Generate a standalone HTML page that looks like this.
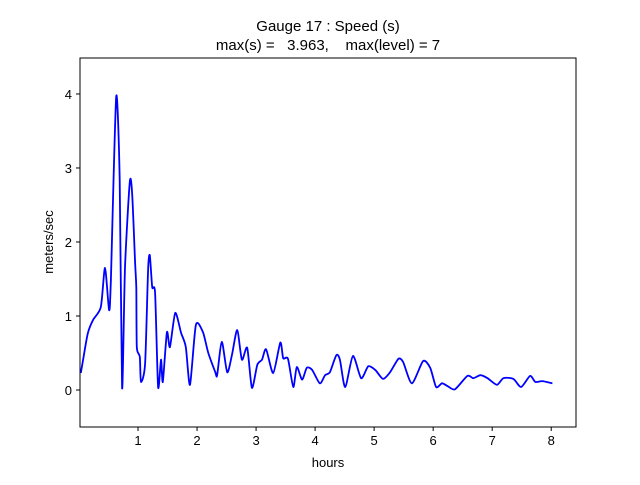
<!DOCTYPE html>
<html><head><meta charset="utf-8"><style>
body{margin:0;background:#fff;}
svg text{font-family:"Liberation Sans","DejaVu Sans",sans-serif;fill:#000;}
</style></head><body>
<svg id="chart" width="640" height="480" viewBox="0 0 640 480">
<rect width="640" height="480" fill="#fff"/>
<text x="328" y="31" font-size="15" text-anchor="middle">Gauge 17 : Speed (s)</text>
<text x="328" y="50" font-size="15" text-anchor="middle" xml:space="preserve">max(s) =   3.963,    max(level) = 7</text>
<g id="ticks"></g>
<path id="series" fill="none" stroke="#0000ff" stroke-width="1.8" stroke-linejoin="round"/>
<rect x="80" y="58" width="496" height="369" fill="none" stroke="#000" stroke-width="1"/>
<text x="328" y="467" font-size="13" text-anchor="middle">hours</text>
<text x="0" y="0" font-size="13" text-anchor="middle" transform="translate(53,242) rotate(-90)">meters/sec</text>
</svg>
<script>
const times=[0.03,0.07,0.15,0.24,0.37,0.44,0.51,0.54,0.63,0.69,0.73,0.78,0.86,0.90,0.95,0.97,0.98,1.03,1.05,1.12,1.17,1.20,1.24,1.29,1.34,1.39,1.42,1.49,1.54,1.63,1.73,1.81,1.88,1.98,2.10,2.19,2.31,2.34,2.42,2.51,2.59,2.68,2.76,2.85,2.93,3.02,3.10,3.17,3.29,3.41,3.46,3.54,3.63,3.69,3.78,3.86,3.95,4.08,4.17,4.25,4.36,4.42,4.51,4.64,4.78,4.90,5.02,5.15,5.27,5.41,5.49,5.64,5.83,5.95,6.05,6.15,6.25,6.37,6.58,6.68,6.80,6.92,7.08,7.19,7.36,7.49,7.64,7.73,7.85,8.02];
const speeds=[0.23,0.41,0.77,0.95,1.12,1.65,1.08,1.49,3.96,2.84,0.03,1.66,2.81,2.66,1.72,1.39,0.58,0.45,0.11,0.36,1.62,1.82,1.39,1.31,0.04,0.41,0.11,0.78,0.58,1.04,0.77,0.58,0.07,0.88,0.78,0.50,0.24,0.20,0.65,0.24,0.47,0.81,0.41,0.57,0.03,0.34,0.41,0.55,0.23,0.64,0.43,0.42,0.04,0.31,0.14,0.30,0.27,0.09,0.20,0.24,0.47,0.41,0.04,0.46,0.16,0.32,0.27,0.15,0.24,0.42,0.38,0.09,0.39,0.30,0.04,0.09,0.05,0.01,0.19,0.16,0.20,0.16,0.07,0.16,0.15,0.04,0.19,0.11,0.12,0.09];
const xTicks=[1,2,3,4,5,6,7,8];
const yTicks=[0,1,2,3,4];
const X0=80,X1=576,Y0=58,Y1=427,xmin=0.017,xmax=8.42,ymin=-0.5,ymax=4.486;
function sx(t){return X0+(t-xmin)/(xmax-xmin)*(X1-X0);}
function sy(v){return Y1-(v-ymin)/(ymax-ymin)*(Y1-Y0);}
const NS="http://www.w3.org/2000/svg";
const pts=times.map((t,i)=>[sx(t),sy(speeds[i])]);
let d='M'+pts[0][0].toFixed(1)+','+pts[0][1].toFixed(1);
const k=0.12;
for(let i=0;i<pts.length-1;i++){
  const p0=pts[Math.max(0,i-1)],p1=pts[i],p2=pts[i+1],p3=pts[Math.min(pts.length-1,i+2)];
  const c1x=p1[0]+(p2[0]-p0[0])*k,c1y=p1[1]+(p2[1]-p0[1])*k;
  const c2x=p2[0]-(p3[0]-p1[0])*k,c2y=p2[1]-(p3[1]-p1[1])*k;
  d+=' C'+c1x.toFixed(1)+','+c1y.toFixed(1)+' '+c2x.toFixed(1)+','+c2y.toFixed(1)+' '+p2[0].toFixed(1)+','+p2[1].toFixed(1);
}
document.getElementById('series').setAttribute('d',d);
const g=document.getElementById('ticks');
xTicks.forEach(t=>{
  const l=document.createElementNS(NS,'line');
  l.setAttribute('x1',sx(t));l.setAttribute('x2',sx(t));l.setAttribute('y1',Y1);l.setAttribute('y2',Y1+4);
  l.setAttribute('stroke','#000');
  
  
  g.appendChild(l);
  const tx=document.createElementNS(NS,'text');
  tx.setAttribute('x',sx(t));tx.setAttribute('y',Y1+18);tx.setAttribute('font-size','13');tx.setAttribute('text-anchor','middle');
  tx.textContent=t;
  
  
  g.appendChild(tx);
});
yTicks.forEach(v=>{
  const l=document.createElementNS(NS,'line');
  l.setAttribute('x1',X0-4);l.setAttribute('x2',X0);l.setAttribute('y1',sy(v));l.setAttribute('y2',sy(v));
  l.setAttribute('stroke','#000');
  
  
  g.appendChild(l);
  const tx=document.createElementNS(NS,'text');
  tx.setAttribute('x',X0-8);tx.setAttribute('y',sy(v)+5);tx.setAttribute('font-size','13');tx.setAttribute('text-anchor','end');
  tx.textContent=v;
  
  
  g.appendChild(tx);
});
</script>
</body></html>
